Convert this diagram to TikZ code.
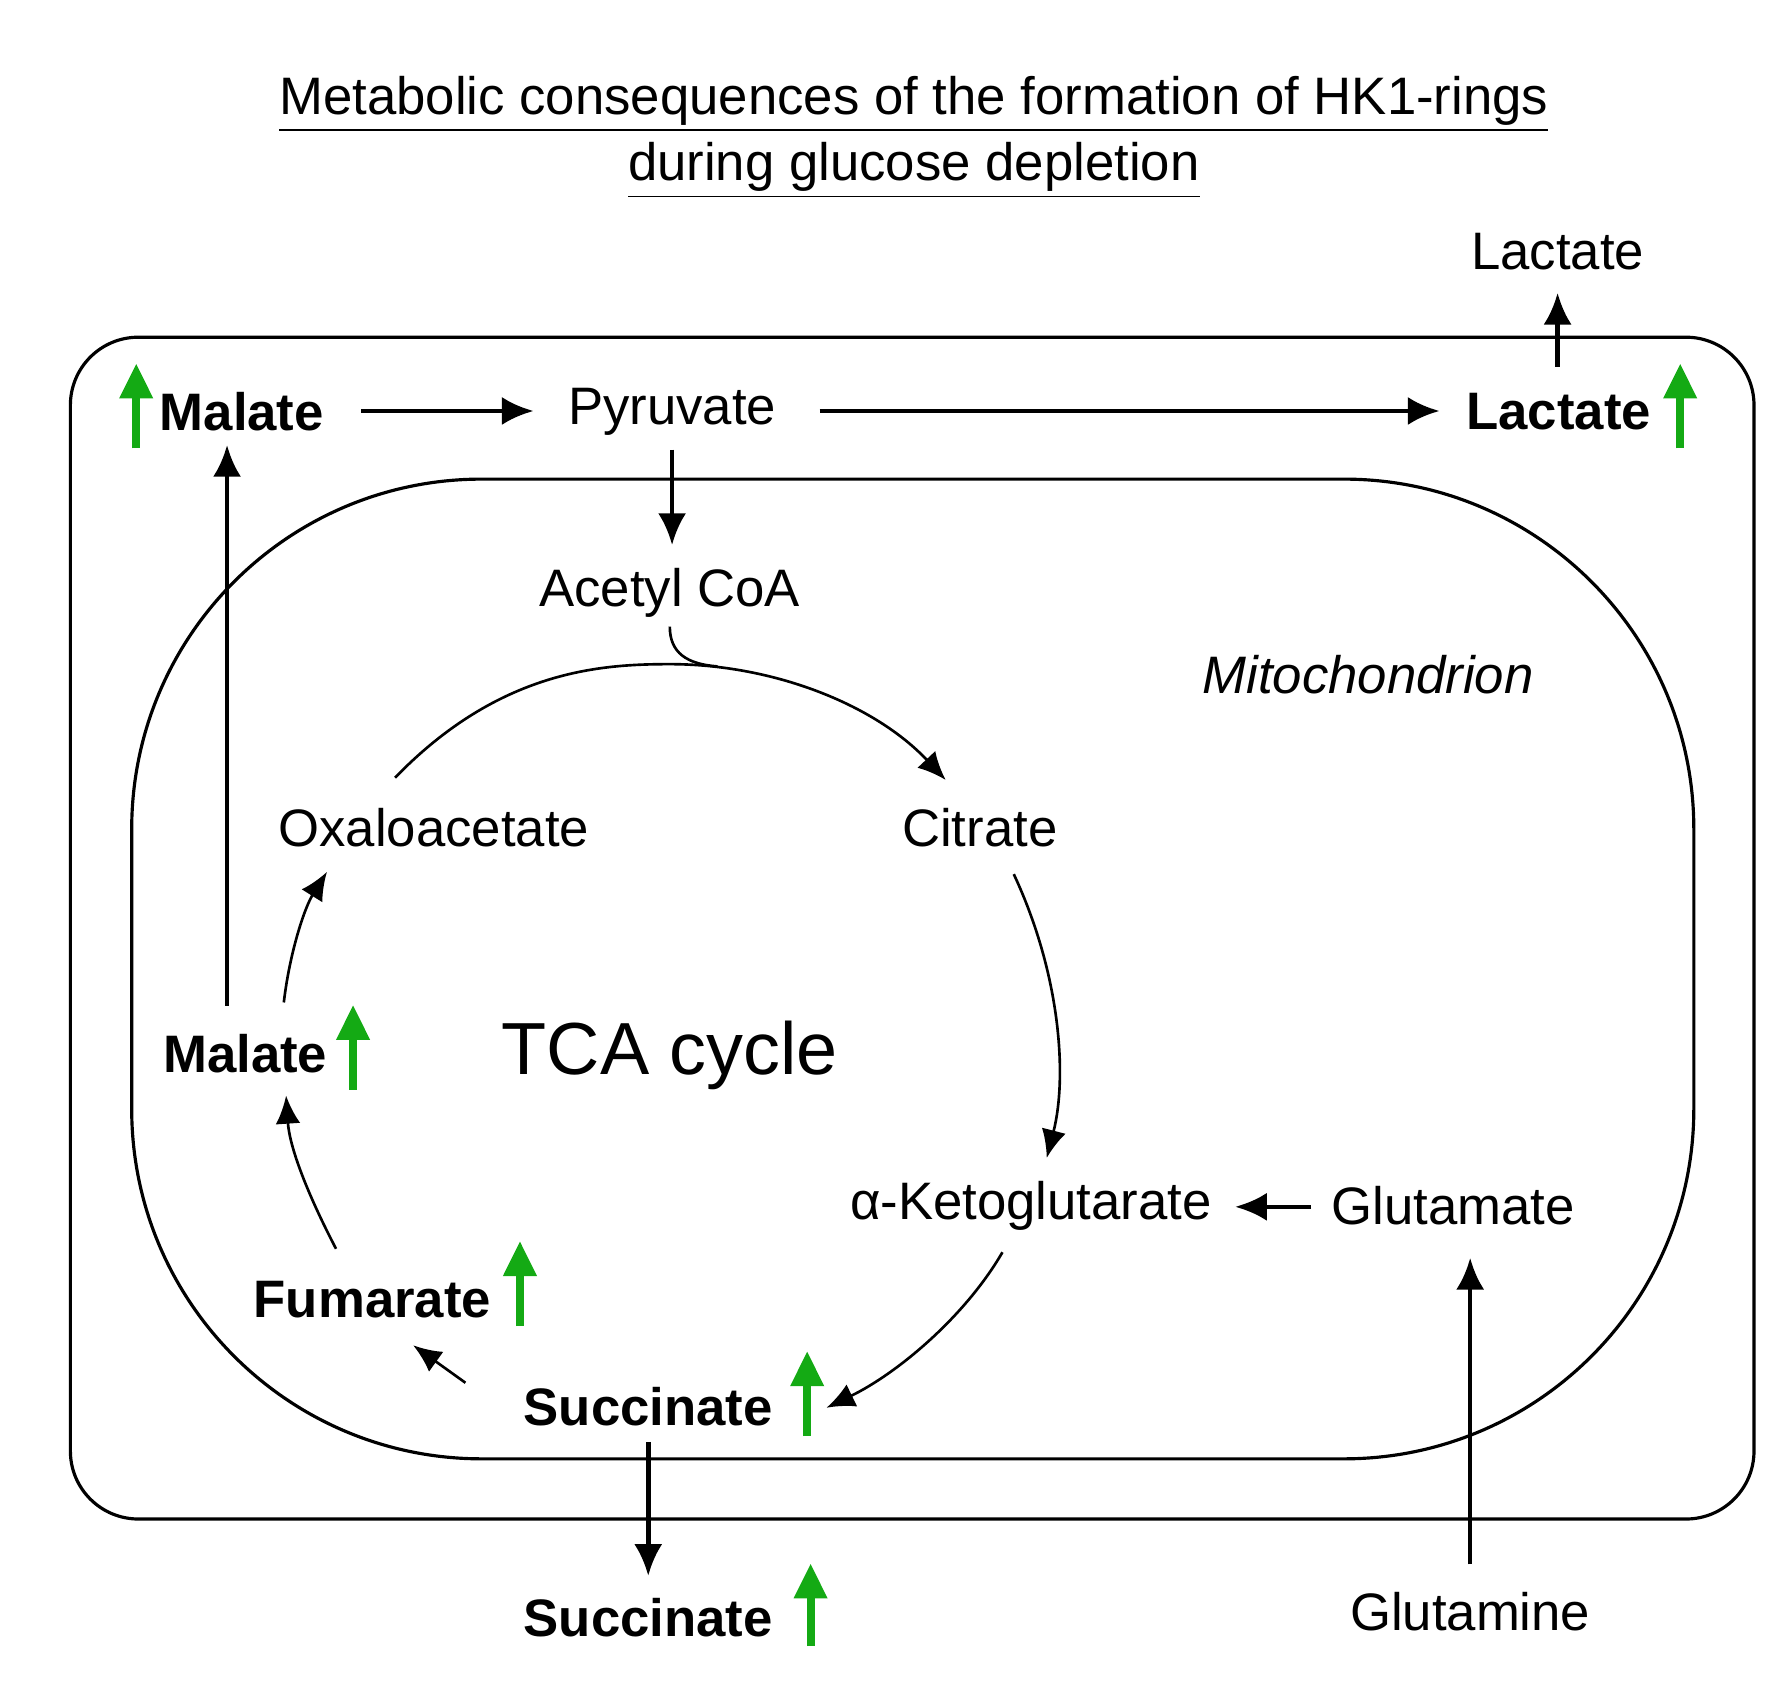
\documentclass[tikz,border=0pt]{standalone}
\usepackage{fontspec}
\setmainfont{Liberation Sans}
\usetikzlibrary{arrows.meta}
\begin{document}
\begin{tikzpicture}[x=0.01135cm,y=-0.01135cm,
  t/.style={font=\fontsize{15}{18}\selectfont,inner sep=0},
  b/.style={t,font=\fontsize{15}{18}\selectfont\bfseries},
  thick arr/.style={line width=1.3pt,-{Latex[length=9pt,width=8pt]}},
  thin arr/.style={line width=0.75pt,-{Latex[length=8pt,width=7pt]}},
  green/.style={line width=2.3pt,draw={rgb,255:red,20;green,170;blue,20},-{Triangle[length=10pt,width=9pt]}}]
\useasboundingbox (0,0) rectangle (1560,1494);
\node[t,align=center] (title) at (805,121) {\underline{Metabolic consequences of the formation of HK1-rings}\\[1pt]\underline{during glucose depletion}};
\draw[line width=0.9pt,rounded corners=0.68cm] (62,297) rectangle (1545,1338);
\draw[line width=0.9pt,rounded corners=3.5cm] (116,422) rectangle (1492,1285);
\node[t] (lac0) at (1372,222) {Lactate};
\node[b] (mal1) at (213,363) {Malate};
\node[t] (pyr) at (592,363) {Pyruvate};
\node[b] (lac1) at (1373,363) {Lactate};
\node[t] (acoa) at (590,522) {Acetyl CoA};
\node[t,font=\fontsize{15}{18}\selectfont\itshape] (mito) at (1205,594) {Mitochondrion};
\node[t] (oxa) at (382,729) {Oxaloacetate};
\node[t] (cit) at (863,729) {Citrate};
\node[t,font=\fontsize{21}{24}\selectfont] (tca) at (590,930) {TCA cycle};
\node[b] (mal2) at (216,928) {Malate};
\node[t] (akg) at (908,1062) {α-Ketoglutarate};
\node[t] (glu) at (1280,1062) {Glutamate};
\node[b] (fum) at (328,1145) {Fumarate};
\node[b] (suc1) at (571,1239) {Succinate};
\node[b] (suc2) at (571,1425) {Succinate};
\node[t] (gln) at (1295,1420) {Glutamine};
% coordinates
\coordinate (a1) at (1372,323); \coordinate (a2) at (1372,258);
\coordinate (p1) at (318,362); \coordinate (p2) at (470,362);
\coordinate (p3) at (722,362); \coordinate (p4) at (1268,362);
\coordinate (p5) at (592,396); \coordinate (p6) at (592,480);
\coordinate (m1) at (200,886); \coordinate (m2) at (200,392);
\coordinate (s1) at (571,1270); \coordinate (s2) at (571,1388);
\coordinate (g1) at (1295,1378); \coordinate (g2) at (1295,1108);
\coordinate (g3) at (1155,1063); \coordinate (g4) at (1088,1063);
\draw[thick arr] (a1) -- (a2);
\draw[thick arr] (p1) -- (p2);
\draw[thick arr] (p3) -- (p4);
\draw[thick arr] (p5) -- (p6);
\draw[thick arr] (m1) -- (m2);
\draw[thick arr] (s1) -- (s2);
\draw[thick arr] (g1) -- (g2);
\draw[thick arr] (g3) -- (g4);
% cycle
\coordinate (c1) at (348,685); \coordinate (c2) at (833,687);
\draw[thin arr] (c1) .. controls (440,590) and (530,585) .. (590,585) .. controls (680,585) and (770,620) .. (c2);
\draw[line width=0.75pt] (590,552) .. controls (590,575) and (605,585) .. (632,587);
\coordinate (c3) at (893,770); \coordinate (c4) at (922,1020);
\draw[thin arr] (c3) .. controls (935,860) and (940,950) .. (c4);
\coordinate (c5) at (883,1103); \coordinate (c6) at (728,1240);
\draw[thin arr] (c5) .. controls (850,1160) and (790,1210) .. (c6);
\coordinate (c7) at (410,1218); \coordinate (c8) at (364,1185);
\draw[thin arr] (c7) -- (c8);
\coordinate (c9) at (296,1100); \coordinate (c10) at (252,965);
\draw[thin arr] (c9) .. controls (270,1050) and (255,1010) .. (c10);
\coordinate (c11) at (250,883); \coordinate (c12) at (288,768);
\draw[thin arr] (c11) .. controls (255,840) and (268,800) .. (c12);
% green arrows
\draw[green] (120,395) -- (120,320);
\draw[green] (1480,395) -- (1480,320);
\draw[green] (311,960) -- (311,885);
\draw[green] (458,1168) -- (458,1093);
\draw[green] (711,1265) -- (711,1190);
\draw[green] (714,1450) -- (714,1377);
\end{tikzpicture}
\end{document}
